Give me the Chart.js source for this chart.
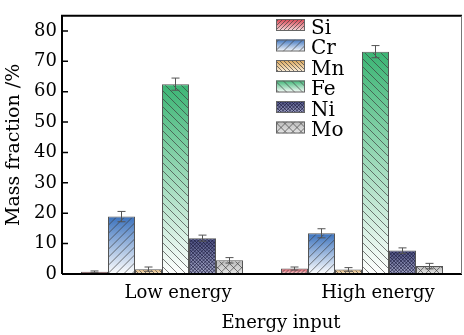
<!DOCTYPE html>
<html><head><meta charset="utf-8">
<script src="https://cdn.jsdelivr.net/npm/chart.js@4/dist/chart.umd.min.js"></script>
<style>html,body{margin:0;padding:0;background:#fff}#wrap{width:464px;height:335px}</style>
</head><body><div id="wrap"><canvas id="c" width="464" height="335"></canvas></div>
<script>
const categories = ['Low energy', 'High energy'];
const elements = ['Si', 'Cr', 'Mn', 'Fe', 'Ni', 'Mo'];
const si = [0.7, 1.8];
const cr = [18.9, 13.4];
const mn = [1.6, 1.5];
const fe = [62.5, 73.2];
const ni = [11.8, 7.7];
const mo = [4.5, 2.6];
const siErr = [0.3, 0.5];
const crErr = [1.7, 1.5];
const mnErr = [0.7, 0.6];
const feErr = [2.0, 2.0];
const niErr = [1.0, 0.9];
const moErr = [0.9, 0.9];
const yTicks = [0, 10, 20, 30, 40, 50, 60, 70, 80];
const xTitle = 'Energy input';
const yTitle = 'Mass fraction /%';

const seriesValues = [si, cr, mn, fe, ni, mo];
const seriesErrors = [siErr, crErr, mnErr, feErr, niErr, moErr];
const topColors = ['#d8404e', '#3b72bd', '#d9a456', '#3bb574', '#4a4e80', '#b9b9b9'];
const botColors = ['#f6dfe0', '#ffffff', '#fbf0de', '#ffffff', '#a4a7c6', '#e6e6e6'];
// hatch: [type, spacing]
const hatches = [['/', 4], ['/', 8], ['\\', 4], ['\\', 8], ['x', 3.5], ['x', 8]];
const FONT = "'DejaVu Serif', serif";

function gradFor(ctx, i, top, bot) {
  const g = ctx.createLinearGradient(0, top, 0, bot);
  g.addColorStop(0, topColors[i]);
  g.addColorStop(1, botColors[i]);
  return g;
}
function drawHatch(ctx, i, x0, y0, w, h) {
  const [type, sp] = hatches[i];
  ctx.save();
  ctx.beginPath(); ctx.rect(x0, y0, w, h); ctx.clip();
  ctx.strokeStyle = i === 4 ? 'rgba(25,25,60,0.85)' : 'rgba(60,60,60,0.75)';
  ctx.lineWidth = i === 4 ? 0.8 : 0.9;
  ctx.beginPath();
  const L = w + h;
  if (type === '/' || type === 'x') {
    for (let s = -L; s < L; s += sp) { ctx.moveTo(x0 + s, y0 + h); ctx.lineTo(x0 + s + h, y0); }
  }
  if (type === '\\' || type === 'x') {
    for (let s = -L; s < L; s += sp) { ctx.moveTo(x0 + s, y0); ctx.lineTo(x0 + s + h, y0 + h); }
  }
  ctx.stroke();
  ctx.restore();
}

const datasets = elements.map((name, i) => ({
  label: name,
  data: seriesValues[i],
  borderColor: '#555',
  borderWidth: 1,
  backgroundColor: (c) => {
    const ch = c.chart;
    if (!ch.chartArea || !ch.scales.y || c.raw === undefined) return topColors[i];
    const y = ch.scales.y.getPixelForValue(c.raw);
    const b = ch.scales.y.getPixelForValue(0);
    if (!isFinite(y) || !isFinite(b) || b - y < 0.5) return topColors[i];
    return gradFor(ch.ctx, i, y, b);
  }
}));

const overlay = {
  id: 'overlay',
  afterDatasetsDraw(chart) {
    const ctx = chart.ctx;
    const ys = chart.scales.y;
    chart.data.datasets.forEach((ds, i) => {
      const meta = chart.getDatasetMeta(i);
      meta.data.forEach((el, j) => {
        const w = el.width, x0 = el.x - w / 2;
        const top = el.y, bot = el.base;
        drawHatch(ctx, i, x0 + 1, top + 1, w - 2, bot - top - 1);
        // error bars
        const v = ds.data[j], e = seriesErrors[i][j];
        const yt = ys.getPixelForValue(v + e), yb = ys.getPixelForValue(Math.max(0, v - e));
        ctx.save();
        ctx.strokeStyle = '#555'; ctx.lineWidth = 1;
        ctx.beginPath();
        ctx.moveTo(el.x, yt); ctx.lineTo(el.x, yb);
        ctx.moveTo(el.x - 4, yt); ctx.lineTo(el.x + 4, yt);
        ctx.moveTo(el.x - 4, yb); ctx.lineTo(el.x + 4, yb);
        ctx.stroke();
        ctx.restore();
      });
    });
  },
  afterDraw(chart) {
    const ctx = chart.ctx, a = chart.chartArea, ys = chart.scales.y;
    ctx.save();
    // frame
    ctx.strokeStyle = '#000'; ctx.lineWidth = 2;
    ctx.beginPath();
    ctx.moveTo(a.left, a.bottom); ctx.lineTo(a.left, a.top); ctx.lineTo(a.right, a.top);
    ctx.moveTo(a.left, a.bottom); ctx.lineTo(a.right, a.bottom);
    ctx.stroke();
    ctx.strokeStyle = '#777'; ctx.lineWidth = 1;
    ctx.beginPath(); ctx.moveTo(a.right - 0.5, a.top); ctx.lineTo(a.right - 0.5, a.bottom); ctx.stroke();
    // inward ticks
    ctx.strokeStyle = '#000'; ctx.lineWidth = 1.5;
    ctx.beginPath();
    yTicks.forEach(t => { const y = ys.getPixelForValue(t); ctx.moveTo(a.left, y); ctx.lineTo(a.left + 6, y); });
    ctx.stroke();
    // x axis title (offset right as in the original)
    ctx.fillStyle = '#000';
    ctx.font = '18px ' + FONT;
    ctx.textAlign = 'center';
    ctx.textBaseline = 'alphabetic';
    ctx.fillText(xTitle, 281, 328);
    // legend
    ctx.textAlign = 'left';
    const lx = 276, bw = 29, bh = 12;
    const rows = [19, 39.5, 60, 80.5, 101, 121.5];
    ctx.font = '20px ' + FONT;
    ctx.textBaseline = 'middle';
    chart.data.datasets.forEach((ds, i) => {
      const y = rows[i];
      ctx.fillStyle = gradFor(ctx, i, y, y + bh);
      ctx.fillRect(lx, y, bw, bh);
      drawHatch(ctx, i, lx, y, bw, bh);
      ctx.strokeStyle = '#666'; ctx.lineWidth = 1;
      ctx.strokeRect(lx + 0.5, y + 0.5, bw - 1, bh - 1);
      ctx.fillStyle = '#000';
      ctx.fillText(ds.label, 311, y + 9.5);
    });
    ctx.restore();
  }
};

new Chart(document.getElementById('c'), {
  type: 'bar',
  data: { labels: categories, datasets },
  plugins: [overlay],
  options: {
    responsive: false,
    animation: false,
    devicePixelRatio: 1,
    layout: { padding: { top: 7, right: 2, left: 0, bottom: 0 } },
    plugins: { legend: { display: false }, tooltip: { enabled: false } },
    datasets: { bar: { categoryPercentage: 0.81, barPercentage: 1.0 } },
    scales: {
      x: {
        grid: { display: false, drawTicks: false },
        border: { display: false },
        ticks: { color: '#000', font: { family: FONT, size: 18 }, padding: 9, labelOffset: 16 },
        title: { display: false },
        afterFit: (s) => { s.height = 61; }
      },
      y: {
        min: 0, max: 85,
        afterBuildTicks: (s) => { s.ticks = yTicks.map(v => ({ value: v })); },
        grid: { display: false, drawTicks: false },
        border: { display: false },
        ticks: { color: '#000', font: { family: FONT, size: 18 }, padding: 5 },
        title: { display: true, text: yTitle, color: '#000', font: { family: FONT, size: 19 }, padding: { top: 3, bottom: 0 } },
        afterFit: (s) => { s.width = 62; }
      }
    }
  }
});
</script>
</body></html>
